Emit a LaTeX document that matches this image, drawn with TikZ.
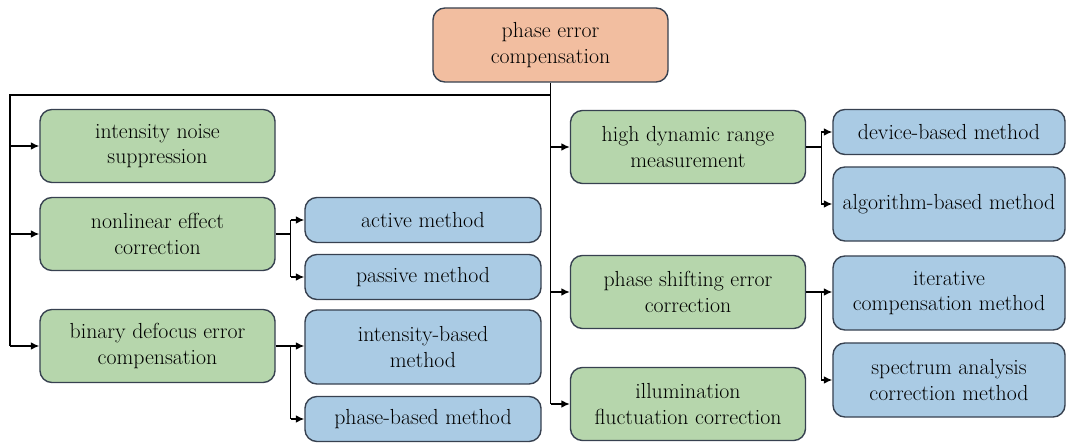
\documentclass[tikz,border=0pt]{standalone}
\usepackage{tikz}
\usetikzlibrary{arrows.meta}
\definecolor{rootcol}{RGB}{242,190,160}
\definecolor{greencol}{RGB}{182,214,172}
\definecolor{bluecol}{RGB}{170,203,228}
\definecolor{edgecol}{RGB}{55,65,80}
\def\junction{++(15,0)}

\begin{document}
\begin{tikzpicture}[x=0.025cm, y=-0.025cm,
	every node/.style={font=\fontsize{15.5}{18}\selectfont, align=center},
	box/.style={draw=edgecol, line width=1pt, rounded corners=8.5pt, inner sep=2pt},
	top/.style={box, fill=rootcol, minimum width=5.875cm, minimum height=1.85cm},
	sub/.style={box, fill=greencol, minimum width=5.875cm, minimum height=1.825cm},
	leaf/.style={box, fill=bluecol, minimum width=5.9cm, minimum height=1.125cm},
	tallleaf/.style={leaf, minimum height=1.85cm},
	link/.style={line width=1pt, black},
	arr/.style={link, -{Latex[length=6pt, width=5.5pt]}}]
	\useasboundingbox (0,0) rectangle (1067,445);

	\node[top] (root) at (550.5,45) {phase error\\compensation};

	% left column
	\node[sub] (noise) at (157.5,146) {intensity noise\\suppression};
	\node[sub] (nonlin) at (157.5,234) {nonlinear effect\\correction};
	\node[sub] (defocus) at (157.5,346) {binary defocus error\\compensation};
	\node[leaf] (active) at (423,220) {active method};
	\node[leaf] (passive) at (423,277) {passive method};
	\node[tallleaf] (intbased) at (423,347) {intensity-based\\method};
	\node[leaf] (phbased) at (423,419) {phase-based method};

	% right column
	\node[sub] (hdr) at (688,147) {high dynamic range\\measurement};
	\node[sub] (shift) at (688,292) {phase shifting error\\correction};
	\node[sub] (illum) at (688,404) {illumination\\fluctuation correction};
	\node[leaf, minimum width=5.8cm] (device) at (949,132) {device-based method};
	\node[tallleaf, minimum width=5.8cm] (algo) at (949,204) {algorithm-based method};
	\node[tallleaf, minimum width=5.8cm] (iter) at (949,293) {iterative\\compensation method};
	\node[tallleaf, minimum width=5.8cm] (spec) at (949,380) {spectrum analysis\\correction method};

	% trunk
	\coordinate (busL) at (10,95);
	\draw[link] (root.south) -- (root.south |- illum);
	\draw[link] (root.south |- busL) -- (busL) -- (busL |- defocus);
	\draw[arr] (busL |- noise) -- (noise);
	\draw[arr] (busL |- nonlin) -- (nonlin);
	\draw[arr] (busL |- defocus) -- (defocus);
	\draw[arr] (root.south |- hdr) -- (hdr);
	\draw[arr] (root.south |- shift) -- (shift);
	\draw[arr] (root.south |- illum) -- (illum);

	% branches
	\draw[link] (nonlin.east) -- \junction coordinate (j1);
	\draw[link] (j1 |- active) -- (j1 |- passive);
	\draw[arr] (j1 |- active) -- (active);
	\draw[arr] (j1 |- passive) -- (passive);

	\draw[arr] (defocus.east) -- (intbased.west |- defocus);
	\draw[link] (defocus.east) \junction coordinate (j2) -- (j2 |- phbased);
	\draw[arr] (j2 |- phbased) -- (phbased);

	\draw[link] (hdr.east) -- \junction coordinate (j3);
	\draw[link] (j3 |- device) -- (j3 |- algo);
	\draw[arr] (j3 |- device) -- (device);
	\draw[arr] (j3 |- algo) -- (algo);

	\draw[arr] (shift.east) -- (iter.west |- shift);
	\draw[link] (shift.east) \junction coordinate (j4) -- (j4 |- spec);
	\draw[arr] (j4 |- spec) -- (spec);
\end{tikzpicture}
\end{document}
